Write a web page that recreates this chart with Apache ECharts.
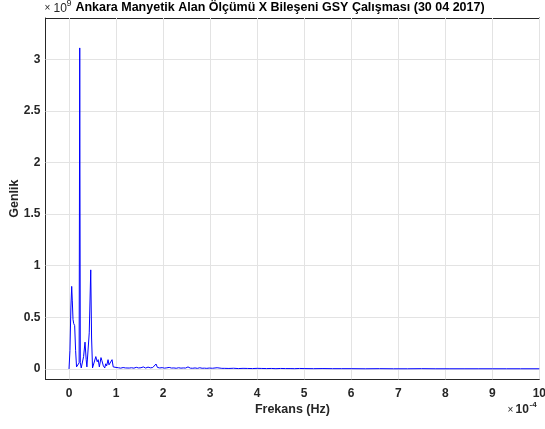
<!DOCTYPE html>
<html>
<head>
<meta charset="utf-8">
<script src="https://cdn.jsdelivr.net/npm/echarts@6/dist/echarts.min.js"></script>
<style>
  html, body { margin: 0; padding: 0; background: #fff; }
  #chart { width: 545px; height: 429px; }
</style>
</head>
<body>
<div id="chart"></div>
<script>
// Frequency axis values, in units of 1e-4 Hz
const freqE4 = [
  0.00, 0.02, 0.04, 0.057, 0.07, 0.085, 0.10, 0.12, 0.14, 0.16,
  0.18, 0.20, 0.215, 0.228, 0.24, 0.26, 0.28, 0.31, 0.34, 0.365,
  0.38, 0.40, 0.43, 0.462, 0.48, 0.50, 0.53, 0.57, 0.60, 0.62,
  0.645, 0.68, 0.70, 0.73, 0.76, 0.78, 0.80, 0.83, 0.85, 0.87,
  0.89, 0.915, 0.94, 0.97, 1.00,
  1.05, 1.10, 1.15, 1.20, 1.24, 1.28, 1.33, 1.38, 1.43, 1.48,
  1.53, 1.58, 1.63, 1.68, 1.73, 1.78, 1.82, 1.85, 1.88, 1.93,
  1.98, 2.03, 2.08, 2.13, 2.18, 2.23, 2.28, 2.33, 2.38, 2.43,
  2.48, 2.53, 2.58, 2.63, 2.68, 2.73, 2.78, 2.83, 2.88, 2.93,
  2.98, 3.05, 3.15, 3.25,
  3.3, 3.4, 3.5, 3.6, 3.7, 3.8, 3.9, 4.0, 4.1, 4.2,
  4.3, 4.4, 4.5, 4.6, 4.7, 4.8, 4.9, 5.0, 5.2, 5.4,
  5.6, 5.8, 6.0, 6.3, 6.6, 6.9, 7.2, 7.5, 7.8, 8.1,
  8.4, 8.7, 9.0, 9.3, 9.6, 10.0
];

// Spectrum magnitude (Genlik), in units of 1e9
const genlikE9 = [
  0.00, 0.18, 0.60, 0.80, 0.66, 0.48, 0.44, 0.42, 0.18, 0.02,
  0.03, 0.01, 0.06, 3.11, 0.06, 0.01, 0.01, 0.12, 0.26, 0.09,
  0.02, 0.01, 0.35, 0.96, 0.30, 0.01, 0.02, 0.12, 0.07, 0.09,
  0.02, 0.11, 0.08, 0.03, 0.01, 0.05, 0.03, 0.09, 0.04, 0.05,
  0.03, 0.09, 0.02, 0.01, 0.015,
  0.012, 0.008, 0.014, 0.010, 0.028, 0.009, 0.012, 0.008, 0.016, 0.010,
  0.012, 0.020, 0.009, 0.018, 0.011, 0.014, 0.020, 0.048, 0.015, 0.010,
  0.013, 0.008, 0.011, 0.015, 0.009, 0.010, 0.007, 0.012, 0.008, 0.010,
  0.009, 0.020, 0.008, 0.007, 0.010, 0.006, 0.012, 0.007, 0.008, 0.006,
  0.009, 0.007, 0.012, 0.006,
  0.006, 0.005, 0.007, 0.004, 0.006, 0.005, 0.004, 0.006, 0.005, 0.004,
  0.005, 0.003, 0.005, 0.004, 0.004, 0.003, 0.005, 0.004, 0.003, 0.004,
  0.003, 0.003, 0.003, 0.002, 0.003, 0.002, 0.002, 0.003, 0.002, 0.002,
  0.002, 0.002, 0.002, 0.002, 0.002, 0.002
];

// Tick positions for both axes
const xTicks = [0, 1, 2, 3, 4, 5, 6, 7, 8, 9, 10];
const yTicks = [0, 0.5, 1, 1.5, 2, 2.5, 3];

const titleText = 'Ankara Manyetik Alan Ölçümü X Bileşeni GSY Çalışması (30 04 2017)';
const xName = 'Frekans (Hz)';
const yName = 'Genlik';

const FONT = '"Liberation Sans", Arial, Helvetica, sans-serif';
const AXIS_COLOR = '#262626';
const GRID_COLOR = '#e3e3e3';

const X_MIN = -0.5, X_MAX = 10;
const Y_MIN = -0.1, Y_MAX = 3.4;

const chart = echarts.init(document.getElementById('chart'), null, { renderer: 'canvas' });

function frameAxis(extra) {
  return Object.assign({
    type: 'value',
    axisLine: { show: true, onZero: false, lineStyle: { color: AXIS_COLOR, width: 1 } },
    axisTick: { show: true, inside: true, length: 5, lineStyle: { color: AXIS_COLOR, width: 1 } },
    splitLine: { show: false },
    axisLabel: { show: false }
  }, extra);
}

const labelStyle = { color: AXIS_COLOR, fontFamily: FONT, fontWeight: 'bold', fontSize: 12 };

const option = {
  animation: false,
  backgroundColor: '#ffffff',
  grid: { left: 45.5, right: 5.7, top: 18, bottom: 49.7, containLabel: false, outerBoundsMode: 'none' },
  xAxis: [
    frameAxis({
      position: 'bottom', min: X_MIN, max: X_MAX,
      axisTick: { show: true, inside: true, length: 5, customValues: xTicks, lineStyle: { color: AXIS_COLOR, width: 1 } },
      axisLabel: Object.assign({ show: true, margin: 8, customValues: xTicks, formatter: v => String(v) }, labelStyle),
      name: xName, nameLocation: 'middle', nameGap: 24, nameMoveOverlap: false,
      nameTextStyle: { color: AXIS_COLOR, fontFamily: FONT, fontWeight: 'bold', fontSize: 12.5 }
    }),
    frameAxis({
      position: 'top', min: X_MIN, max: X_MAX,
      axisTick: { show: true, inside: true, length: 5, customValues: xTicks, lineStyle: { color: AXIS_COLOR, width: 1 } }
    })
  ],
  yAxis: [
    frameAxis({
      position: 'left', min: Y_MIN, max: Y_MAX,
      axisTick: { show: true, inside: true, length: 5, customValues: yTicks, lineStyle: { color: AXIS_COLOR, width: 1 } },
      axisLabel: Object.assign({ show: true, margin: 5, customValues: yTicks, formatter: v => String(v) }, labelStyle),
      name: yName, nameLocation: 'middle', nameGap: 24, nameRotate: 90, nameMoveOverlap: false,
      nameTextStyle: { color: AXIS_COLOR, fontFamily: FONT, fontWeight: 'bold', fontSize: 12.5 }
    }),
    frameAxis({
      position: 'right', min: Y_MIN, max: Y_MAX,
      axisTick: { show: true, inside: true, length: 5, customValues: yTicks, lineStyle: { color: AXIS_COLOR, width: 1 } }
    })
  ],
  graphic: [
    {
      type: 'text', x: 280, y: 1.5, z: 10,
      style: { text: titleText, fill: '#000000', font: 'bold 12.5px ' + FONT, align: 'center', verticalAlign: 'top' }
    },
    {
      type: 'text', x: 44.5, y: 3.5, z: 10,
      style: { text: '×', fill: AXIS_COLOR, font: '10px ' + FONT, align: 'left', verticalAlign: 'top' }
    },
    {
      type: 'text', x: 53.5, y: 2.5, z: 10,
      style: { text: '10', fill: AXIS_COLOR, font: '12px ' + FONT, align: 'left', verticalAlign: 'top' }
    },
    {
      type: 'text', x: 66.5, y: -1, z: 10,
      style: { text: '9', fill: AXIS_COLOR, font: '9px ' + FONT, align: 'left', verticalAlign: 'top' }
    },
    {
      type: 'text', x: 507.5, y: 405, z: 10,
      style: { text: '×', fill: AXIS_COLOR, font: '10px ' + FONT, align: 'left', verticalAlign: 'top' }
    },
    {
      type: 'text', x: 515.5, y: 404, z: 10,
      style: { text: '10', fill: AXIS_COLOR, font: 'bold 12px ' + FONT, align: 'left', verticalAlign: 'top' }
    },
    {
      type: 'text', x: 529.5, y: 400.5, z: 10,
      style: { text: '-4', fill: AXIS_COLOR, font: 'bold 8px ' + FONT, align: 'left', verticalAlign: 'top' }
    }
  ],
  series: [
    {
      // light grid lines at the tick positions, kept beneath the spectrum line
      type: 'line', data: [], silent: true, z: 1,
      xAxisIndex: 0, yAxisIndex: 0,
      markLine: {
        silent: true, symbol: 'none', animation: false, z: 1,
        label: { show: false },
        lineStyle: { color: GRID_COLOR, width: 1, type: 'solid' },
        emphasis: { disabled: true },
        data: xTicks.map(v => ({ xAxis: v })).concat(yTicks.map(v => ({ yAxis: v })))
      }
    },
    {
      type: 'line', z: 6,
      xAxisIndex: 0, yAxisIndex: 0,
      data: freqE4.map((f, i) => [f, genlikE9[i]]),
      showSymbol: false, symbol: 'none',
      lineStyle: { color: '#0000ff', width: 1 },
      clip: true
    }
  ]
};

chart.setOption(option);
</script>
</body>
</html>
